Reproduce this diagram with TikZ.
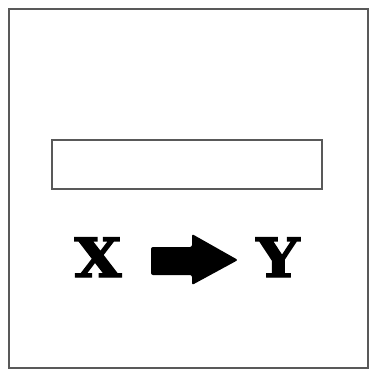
\documentclass[tikz,border=0pt]{standalone}
\usepackage{fontspec}
\newfontfamily\letterfont[BoldFeatures={FakeBold=2.5}]{DejaVu Serif}
\tikzset{
  frame/.style={draw=black!65, line width=1.6pt},
  bar/.style={draw=black!65, line width=1.6pt},
  letter/.style={inner sep=0pt, font=\letterfont\bfseries\fontsize{54}{54}\selectfont, xscale=1.12},
}
\begin{document}
\begin{tikzpicture}[x=1pt,y=-1pt]
\useasboundingbox (0,0) rectangle (370,370);
\fill[white] (0,0) rectangle (370,370);
\draw[frame] (9,9) rectangle (368,368);
\draw[bar] (52,140) rectangle (322,189);
\node[letter, anchor=base] (x) at (98,277) {X};
\node[letter, anchor=base] (y) at (278,277) {Y};
\fill[black, rounded corners=2pt] (151,247) -- (192,247) -- (192,234) -- (238,260) -- (192,285) -- (192,275) -- (151,275) -- cycle;
\end{tikzpicture}
\end{document}
